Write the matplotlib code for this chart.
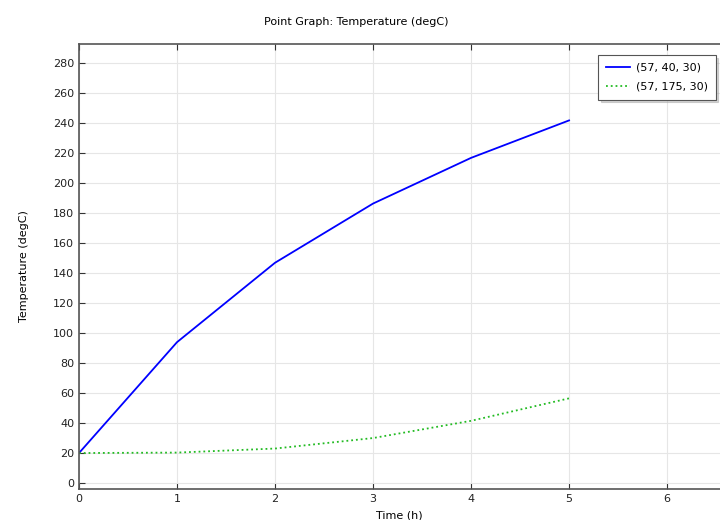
import matplotlib
matplotlib.use('Agg')
import matplotlib.pyplot as plt

# Данные
time_h = [0, 1, 2, 3, 4, 5]
temp_p1 = [20, 94, 147, 186.5, 217, 242]
temp_p2 = [20, 20.3, 23, 30, 41.5, 56.5]
label_p1 = '(57, 40, 30)'
label_p2 = '(57, 175, 30)'

plt.rcParams.update({
    'font.size': 8,
    'font.family': 'DejaVu Sans',
})

fig = plt.figure(figsize=(7.2, 5.2), dpi=100)
ax = fig.add_axes([79 / 720, 1 - 489 / 520, 1 - 79 / 720, 445 / 520])

ax.plot(time_h, temp_p1, color='#0000ff', linewidth=1.3, label=label_p1)
ax.plot(time_h, temp_p2, color='#22bb22', linewidth=1.3, linestyle=':', label=label_p2)

ax.set_xlim(0, 6.54)
ax.set_ylim(-4, 293)
ax.set_xticks(range(0, 7))
ax.set_yticks(range(0, 281, 20))
ax.grid(True, color='#e6e6e6', linewidth=0.8)
ax.set_axisbelow(True)

ax.tick_params(direction='in', length=4, top=True, colors='#333333', labelcolor='#222222')
for side in ['left', 'bottom', 'top']:
    ax.spines[side].set_color('#555555')
    ax.spines[side].set_linewidth(1.2)
ax.spines['right'].set_visible(False)

ax.set_xlabel('Time (h)', labelpad=5)
ax.set_ylabel('Temperature (degC)', labelpad=17)
fig.text(356 / 720, 1 - 22 / 520, 'Point Graph: Temperature (degC)', ha='center', va='center', fontsize=8)

leg = ax.legend(loc='upper right', bbox_to_anchor=(0.993, 0.975), fancybox=False, shadow={'color': '#aaaaaa'},
                framealpha=1, edgecolor='#555555', borderpad=0.7, handlelength=2.2,
                handletextpad=0.5, borderaxespad=0, labelspacing=0.8)
leg.get_frame().set_linewidth(0.8)

plt.savefig('out.png', dpi=100)
